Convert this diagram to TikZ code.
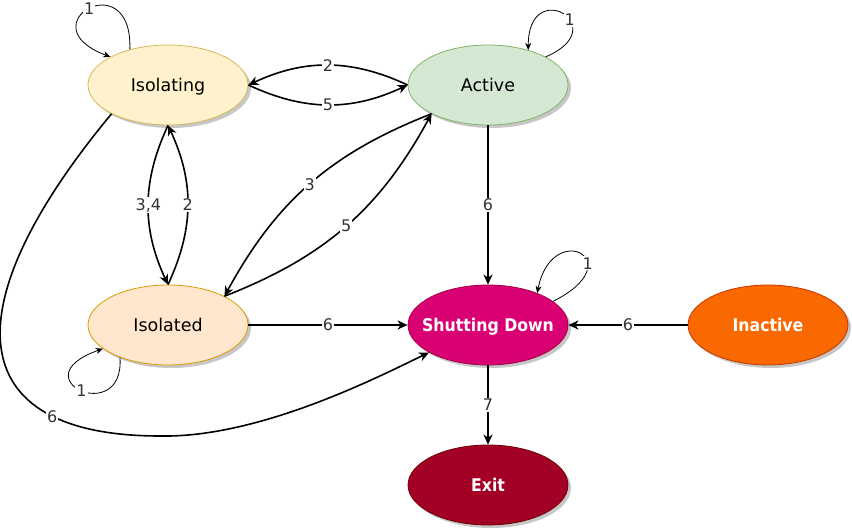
\documentclass[tikz,border=0pt]{standalone}
\usepackage{fontspec}
\setmainfont{DejaVu Sans}
\newfontfamily\condfont{DejaVu Sans Condensed}
\usepackage{xcolor}
\usepackage{tikz}
\usetikzlibrary{arrows.meta,shapes.geometric,shadows}

\definecolor{isolatingfill}{HTML}{FFF2CC}
\definecolor{isolatingline}{HTML}{D6B656}
\definecolor{activefill}{HTML}{D5E8D4}
\definecolor{activeline}{HTML}{82B366}
\definecolor{isolatedfill}{HTML}{FFE6CC}
\definecolor{isolatedline}{HTML}{D79B00}
\definecolor{shutfill}{HTML}{D80073}
\definecolor{shutline}{HTML}{A50040}
\definecolor{inactivefill}{HTML}{FA6800}
\definecolor{inactiveline}{HTML}{C73500}
\definecolor{exitfill}{HTML}{A20025}
\definecolor{exitline}{HTML}{6F0000}

\begin{document}
\begin{tikzpicture}[
  x=1pt, y=-1pt,
  font=\fontsize{17.5}{20}\selectfont, >={Stealth[length=10pt,width=9pt,inset=3pt]},
  state/.style={ellipse, draw, line width=0.8pt, minimum width=160pt, minimum height=80pt,
    inner xsep=-14pt, inner ysep=0pt, text height=13pt, text depth=0pt,
    drop shadow={shadow xshift=3pt, shadow yshift=-3pt, fill=black!22, opacity=1}},
  darkstate/.style={state, text=white, font=\condfont\bfseries\fontsize{17.5}{20}\selectfont},
  edge/.style={->, line width=1.6pt},
  selfloop/.style={-{Stealth[length=7pt,width=6pt,inset=2pt]}, line width=0.8pt},
  lbl/.style={fill=white, inner sep=1pt, text=black!80, font=\fontsize{16}{18}\selectfont},
]
\useasboundingbox (0,0) rectangle (852,529);

% 状态：两列 + 右侧 Inactive，单位 pt（= 参考图像素）
\node[state, fill=isolatingfill, draw=isolatingline] (isolating) at (168,85) {Isolating};
\node[state, fill=activefill, draw=activeline] (active) at (488,85) {Active};
\node[state, fill=isolatedfill, draw=isolatedline] (isolated) at (168,325) {Isolated};
\node[darkstate, fill=shutfill, draw=shutline] (shut) at (488,325) {Shutting Down};
\node[darkstate, fill=inactivefill, draw=inactiveline] (inactive) at (768,325) {Inactive};
\node[darkstate, fill=exitfill, draw=exitline] (exit) at (488,485) {Exit};

% Isolating ↔ Active
\draw[edge] (active.west) to[bend right=25] node[lbl]{2} (isolating.east);
\draw[edge] (isolating.east) to[bend right=25] node[lbl]{5} (active.west);

% Isolating ↔ Isolated
\draw[edge] (isolating.south) to[bend right=25] node[lbl]{3,4} (isolated.north);
\draw[edge] (isolated.north) to[bend right=25] node[lbl]{2} (isolating.south);

% Active ↔ Isolated（斜向一对）
\draw[edge] (active.207) to[bend right=20] node[lbl]{3} (isolated.27);
\draw[edge] (isolated.27) to[bend right=20] node[lbl]{5} (active.207);

% 汇入 Shutting Down
\draw[edge] (active) -- node[lbl]{6} (shut);
\draw[edge] (isolated) -- node[lbl]{6} (shut);
\draw[edge] (inactive) -- node[lbl]{6} (shut);
\draw[edge] (shut) -- node[lbl]{7} (exit);

% Isolating → Shutting Down：左侧大弧，经底部拐点
\coordinate (arcbottom) at (160,436);
\draw[edge] (isolating.207) .. controls (-48,306) and (-40,436) .. node[lbl, pos=0.77]{6} (arcbottom)
  .. controls (260,438) and (380,376) .. (shut.205);

% 自环
\draw[selfloop] (isolating.137) .. controls +(3,-87) and +(-85,-32) .. node[lbl]{1} (isolating.154);
\draw[selfloop] (active.26) .. controls +(70,-30) and +(0,-75) .. node[lbl, pos=0.4]{1} (active.41);
\draw[selfloop] (shut.20) .. controls +(80,-40) and +(15,-75) .. node[lbl, pos=0.35]{1} (shut.33);
\draw[selfloop] (isolated.214) .. controls +(5,70) and +(-85,30) .. node[lbl]{1} (isolated.200);
\end{tikzpicture}
\end{document}
